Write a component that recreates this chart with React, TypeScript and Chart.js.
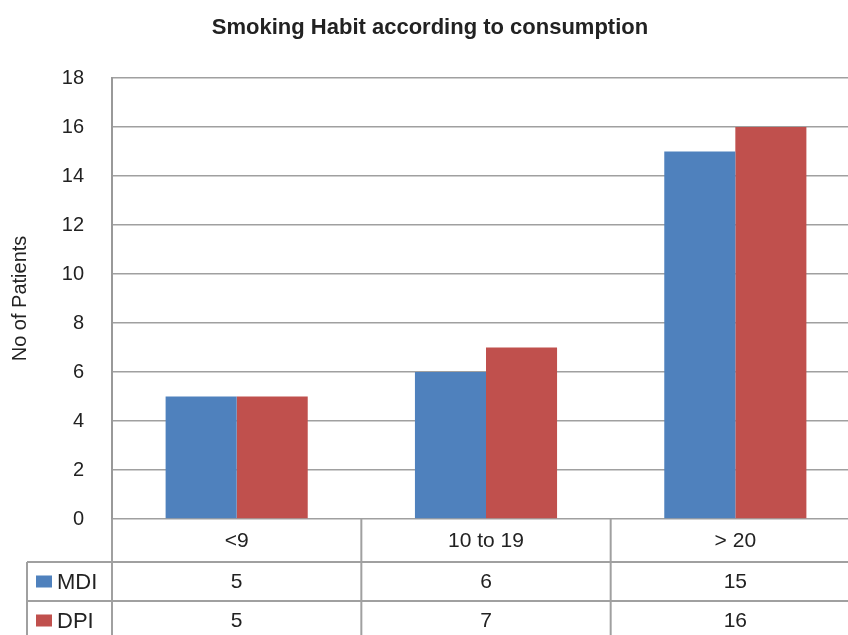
import React, { useEffect, useRef } from "react";
import { Chart, registerables } from "chart.js";

Chart.register(...registerables);

const categories = ["<9", "10 to 19", "> 20"];
const seriesNames = ["MDI", "DPI"];
const mdiValues = [5, 6, 15];
const dpiValues = [5, 7, 16];
const seriesColors = ["#4F81BD", "#C0504D"];
const titleText = "Smoking Habit according to consumption";
const yTitle = "No of Patients";
const yMax = 18;
const yStep = 2;

const FONT = "'Liberation Sans Narrow', 'Liberation Sans', Arial, sans-serif";
const LINE = "#a0a0a0";

const tablePlugin = {
  id: "dataTable",
  afterDraw(chart: any) {
    const ctx = chart.ctx;
    const area = chart.chartArea;
    const x = chart.scales.x;
    const n = categories.length;
    const cw = (area.right - area.left) / n;
    const top = area.bottom;
    const row1 = top + 43;
    const row2 = row1 + 39;
    const bottomY = chart.height + 10;
    const legendLeft = 27;
    ctx.save();
    ctx.strokeStyle = LINE;
    ctx.lineWidth = 2;
    // vertical lines
    for (let i = 0; i <= n; i++) {
      const vx = area.left + i * cw;
      ctx.beginPath();
      ctx.moveTo(vx, top);
      ctx.lineTo(vx, bottomY);
      ctx.stroke();
    }
    // horizontal lines
    [row1, row2].forEach((hy) => {
      ctx.beginPath();
      ctx.moveTo(legendLeft, hy);
      ctx.lineTo(chart.width + 10, hy);
      ctx.stroke();
    });
    ctx.beginPath();
    ctx.moveTo(legendLeft, row1);
    ctx.lineTo(legendLeft, bottomY);
    ctx.stroke();

    ctx.fillStyle = "#222";
    ctx.font = `21px ${FONT}`;
    ctx.textAlign = "center";
    ctx.textBaseline = "middle";
    categories.forEach((c, i) => {
      const cx = x.getPixelForValue(i);
      ctx.fillText(c, cx, (top + row1) / 2 + 1);
    });
    const rows = [mdiValues, dpiValues];
    const rowMid = [(row1 + row2) / 2, (row2 + row2 + 39) / 2];
    rows.forEach((vals, r) => {
      vals.forEach((v, i) => {
        const cx = x.getPixelForValue(i);
        ctx.fillText(String(v), cx, rowMid[r] + 1);
      });
      ctx.fillStyle = seriesColors[r];
      ctx.fillRect(36, rowMid[r] - 6, 16, 12);
      ctx.fillStyle = "#222";
      ctx.textAlign = "left";
      ctx.font = `22px ${FONT}`;
      ctx.fillText(seriesNames[r], 57, rowMid[r] + 1);
      ctx.font = `21px ${FONT}`;
      ctx.textAlign = "center";
    });
    ctx.restore();
  },
};

export default function App() {
  const ref = useRef<HTMLCanvasElement | null>(null);
  useEffect(() => {
    document.body.style.margin = "0";
    const canvas = ref.current!;
    const chart = new Chart(canvas, {
      type: "bar",
      data: {
        labels: categories,
        datasets: [
          { label: seriesNames[0], data: mdiValues, backgroundColor: seriesColors[0], categoryPercentage: 0.57, barPercentage: 1 },
          { label: seriesNames[1], data: dpiValues, backgroundColor: seriesColors[1], categoryPercentage: 0.57, barPercentage: 1 },
        ],
      },
      options: {
        animation: false,
        responsive: false,
        maintainAspectRatio: false,
        layout: { padding: { top: 0, bottom: 116, left: 0, right: 10 } },
        plugins: {
          legend: { display: false },
          tooltip: { enabled: false },
          title: {
            display: true,
            text: titleText,
            color: "#222",
            font: { family: FONT, size: 22, weight: "bold" },
            padding: { top: 15, bottom: 36.6 },
          },
        },
        scales: {
          x: {
            display: false,
          },
          y: {
            min: 0,
            max: yMax,
            ticks: {
              stepSize: yStep,
              padding: 28,
              color: "#222",
              font: { family: FONT, size: 20 },
            },
            grid: { color: LINE, lineWidth: 1.5, drawTicks: false },
            border: { display: true, color: "#999", width: 2 },
            title: {
              display: true,
              text: yTitle,
              color: "#222",
              font: { family: FONT, size: 20 },
              padding: { top: 8, bottom: 0 },
            },
            afterFit(scale: any) {
              scale.width = 112;
            },
          },
        },
      },
      plugins: [tablePlugin],
    });
    return () => chart.destroy();
  }, []);
  return (
    <div style={{ position: "absolute", left: 0, top: 0, width: 848, height: 635, overflow: "hidden", background: "#fff" }}>
      <canvas ref={ref} width={870} height={635} style={{ display: "block" }} />
    </div>
  );
}
